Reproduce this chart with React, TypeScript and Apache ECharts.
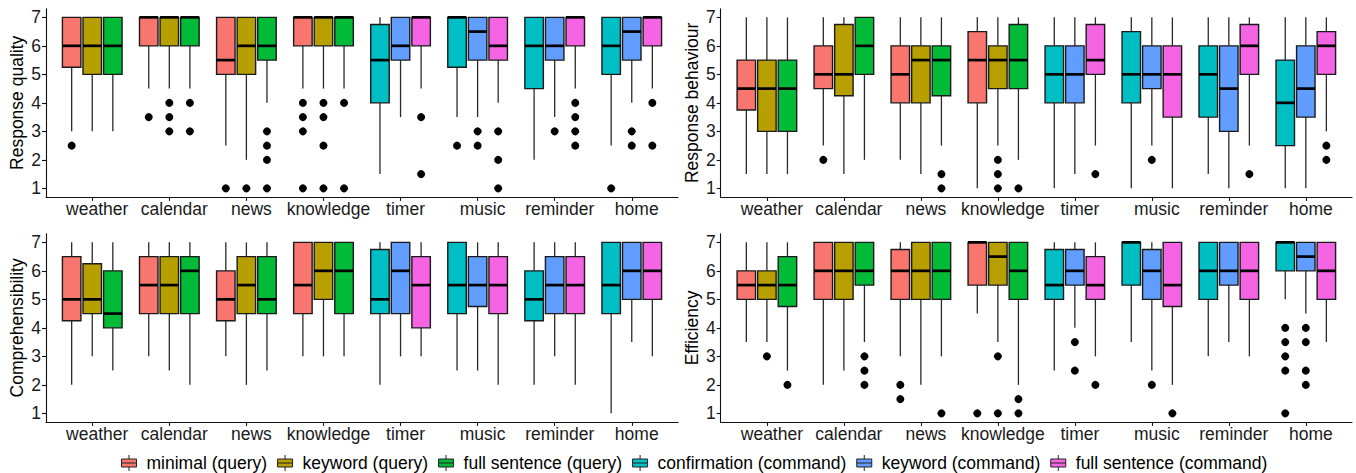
import React, { useEffect, useRef } from 'react';
import * as echarts from 'echarts';

// ---------- data ----------
const categories = ['weather', 'calendar', 'news', 'knowledge', 'timer', 'music', 'reminder', 'home'];
const querySeries = ['minimal (query)', 'keyword (query)', 'full sentence (query)'];
const commandSeries = ['confirmation (command)', 'keyword (command)', 'full sentence (command)'];
const seriesColors = ['#F8766D', '#B79F00', '#00BA38', '#00BFC4', '#619CFF', '#F564E3'];
const yTicks = [1, 2, 3, 4, 5, 6, 7];
const panelTitles = ['Response quality', 'Response behaviour', 'Comprehensibility', 'Efficiency'];

// box stats: [min, Q1, median, Q3, max]; query rows -> weather, calendar, news, knowledge
// command rows -> timer, music, reminder, home
const qualityQuery = [
  [[3, 5.25, 6, 7, 7], [4.5, 6, 7, 7, 7], [2.5, 5, 5.5, 7, 7], [4.5, 6, 7, 7, 7]],
  [[3, 5, 6, 7, 7], [4.5, 6, 7, 7, 7], [2, 5, 6, 7, 7], [4.5, 6, 7, 7, 7]],
  [[3, 5, 6, 7, 7], [4.5, 6, 7, 7, 7], [4, 5.5, 6, 7, 7], [4.5, 6, 7, 7, 7]],
];
const qualityQueryOutliers = [
  [[2.5], [3.5], [1], [4, 3.5, 3, 1]],
  [[], [4, 3.5, 3], [1], [4, 3.5, 2.5, 1]],
  [[], [4, 3], [3, 2.5, 2, 1], [4, 1]],
];
const qualityCommand = [
  [[1.5, 4, 5.5, 6.75, 7], [3.5, 5.25, 7, 7, 7], [2, 4.5, 6, 7, 7], [2.5, 5, 6, 7, 7]],
  [[3.5, 5.5, 6, 7, 7], [3.5, 5.5, 6.5, 7, 7], [3.5, 5.5, 6, 7, 7], [4, 5.5, 6.5, 7, 7]],
  [[4.5, 6, 7, 7, 7], [4, 5.5, 6, 7, 7], [4.5, 6, 7, 7, 7], [4.5, 6, 7, 7, 7]],
];
const qualityCommandOutliers = [
  [[], [2.5], [], [1]],
  [[], [3, 2.5], [3], [3, 2.5]],
  [[3.5, 1.5], [3, 2, 1], [4, 3.5, 3, 2.5], [4, 2.5]],
];

const behaviourQuery = [
  [[1.5, 3.75, 4.5, 5.5, 7], [2.5, 4.5, 5, 6, 7], [2, 4, 5, 6, 7], [1, 4, 5.5, 6.5, 7]],
  [[1.5, 3, 4.5, 5.5, 7], [1.5, 4.25, 5, 6.75, 7], [1.5, 4, 5.5, 6, 7], [2.5, 4.5, 5.5, 6, 7]],
  [[1.5, 3, 4.5, 5.5, 7], [2, 5, 6, 7, 7], [2.5, 4.25, 5.5, 6, 7], [2, 4.5, 5.5, 6.75, 7]],
];
const behaviourQueryOutliers = [
  [[], [2], [], []],
  [[], [], [], [2, 1.5, 1]],
  [[], [], [1.5, 1], [1]],
];
const behaviourCommand = [
  [[1, 4, 5, 6, 7], [1, 4, 5, 6.5, 7], [1.5, 3.5, 5, 6, 7], [1, 2.5, 4, 5.5, 7]],
  [[1.5, 4, 5, 6, 7], [2.5, 4.5, 5, 6, 7], [1, 3, 4.5, 6, 7], [1, 3.5, 4.5, 6, 7]],
  [[2.5, 5, 5.5, 6.75, 7], [1, 3.5, 5, 6, 7], [2.5, 5, 6, 6.75, 7], [3, 5, 6, 6.5, 7]],
];
const behaviourCommandOutliers = [
  [[], [], [], []],
  [[], [2], [], []],
  [[1.5], [], [1.5], [2.5, 2]],
];

const comprehensibilityQuery = [
  [[2, 4.25, 5, 6.5, 7], [3, 4.5, 5.5, 6.5, 7], [3, 4.25, 5, 6, 7], [3, 4.5, 5.5, 7, 7]],
  [[3, 4.5, 5, 6.25, 7], [2.5, 4.5, 5.5, 6.5, 7], [2, 4.5, 5.5, 6.5, 7], [3, 5, 6, 7, 7]],
  [[2.5, 4, 4.5, 6, 7], [2, 4.5, 6, 6.5, 7], [2.5, 4.5, 5, 6.5, 7], [3, 4.5, 6, 7, 7]],
];
const comprehensibilityQueryOutliers = [
  [[], [], [], []],
  [[], [], [], []],
  [[], [], [], []],
];
const comprehensibilityCommand = [
  [[2, 4.5, 5, 6.75, 7], [2.5, 4.5, 5.5, 7, 7], [2, 4.25, 5, 6, 7], [1, 4.5, 5.5, 7, 7]],
  [[3, 4.5, 6, 7, 7], [2.5, 4.75, 5.5, 6.5, 7], [3, 4.5, 5.5, 6.5, 7], [3.5, 5, 6, 7, 7]],
  [[3, 4, 5.5, 6.5, 7], [2, 4.5, 5.5, 6.5, 7], [2, 4.5, 5.5, 6.5, 7], [3, 5, 6, 7, 7]],
];
const comprehensibilityCommandOutliers = [
  [[], [], [], []],
  [[], [], [], []],
  [[], [], [], []],
];

const efficiencyQuery = [
  [[3.5, 5, 5.5, 6, 7], [2, 5, 6, 7, 7], [3, 5, 6, 6.75, 7], [4.5, 5.5, 7, 7, 7]],
  [[3.5, 5, 5.5, 6, 7], [2.5, 5, 6, 7, 7], [2, 5, 6, 7, 7], [3.5, 5.5, 6.5, 7, 7]],
  [[2.5, 4.75, 5.5, 6.5, 7], [3.5, 5.5, 6, 7, 7], [3, 5, 6, 7, 7], [2, 5, 6, 7, 7]],
];
const efficiencyQueryOutliers = [
  [[], [], [2, 1.5], [1]],
  [[3], [], [], [3, 1]],
  [[2], [3, 2.5, 2], [1], [1.5, 1]],
];
const efficiencyCommand = [
  [[2.5, 5, 5.5, 6.75, 7], [3.5, 5.5, 7, 7, 7], [3, 5, 6, 7, 7], [5, 6, 7, 7, 7]],
  [[4, 5.5, 6, 6.75, 7], [2.5, 5, 6, 6.75, 7], [3.5, 5.5, 6, 7, 7], [4.5, 6, 6.5, 7, 7]],
  [[3, 5, 5.5, 6.5, 7], [2, 4.75, 5.5, 7, 7], [3, 5, 6, 7, 7], [3.5, 5, 6, 7, 7]],
];
const efficiencyCommandOutliers = [
  [[], [], [], [4, 3.5, 3, 2.5, 1]],
  [[3.5, 2.5], [2], [], [4, 3.5, 2.5, 2]],
  [[2], [1], [], []],
];

// ---------- layout / style ----------
const FONT = "'Liberation Sans', Arial, Helvetica, sans-serif";
const FS = 17.5;
const SLOT_OFFSET = [-0.267, 0, 0.267];
const BOX_WIDTH = 0.24;
const grids = [
  { left: 46, top: 8.8, width: 632, height: 188.1 },
  { left: 720.7, top: 8.8, width: 631.3, height: 188.1 },
  { left: 46, top: 233.8, width: 632, height: 188.1 },
  { left: 720.7, top: 233.8, width: 631.3, height: 188.1 },
];

const panelData = [
  [qualityQuery, qualityQueryOutliers, qualityCommand, qualityCommandOutliers],
  [behaviourQuery, behaviourQueryOutliers, behaviourCommand, behaviourCommandOutliers],
  [comprehensibilityQuery, comprehensibilityQueryOutliers, comprehensibilityCommand, comprehensibilityCommandOutliers],
  [efficiencyQuery, efficiencyQueryOutliers, efficiencyCommand, efficiencyCommandOutliers],
];

const renderBox = (params: any, api: any) => {
  const x = api.value(0);
  const lo = api.coord([x, api.value(1)]);
  const q1 = api.coord([x, api.value(2)]);
  const med = api.coord([x, api.value(3)]);
  const q3 = api.coord([x, api.value(4)]);
  const hi = api.coord([x, api.value(5)]);
  const w = api.size([BOX_WIDTH, 0])[0];
  const color = api.visual('color');
  const children: any[] = [];
  if (lo[1] - q1[1] > 0.1) {
    children.push({ type: 'line', shape: { x1: lo[0], y1: lo[1], x2: q1[0], y2: q1[1] }, style: { stroke: '#2a2a2a', lineWidth: 1.3 } });
  }
  if (q3[1] - hi[1] > 0.1) {
    children.push({ type: 'line', shape: { x1: q3[0], y1: q3[1], x2: hi[0], y2: hi[1] }, style: { stroke: '#2a2a2a', lineWidth: 1.3 } });
  }
  children.push({
    type: 'rect',
    shape: { x: q1[0] - w / 2, y: q3[1], width: w, height: q1[1] - q3[1] },
    style: { fill: color, stroke: '#1a1a1a', lineWidth: 1.4 },
  });
  children.push({
    type: 'line',
    shape: { x1: med[0] - w / 2, y1: med[1], x2: med[0] + w / 2, y2: med[1] },
    style: { stroke: '#000', lineWidth: 2.7 },
  });
  return { type: 'group', children };
};

function buildOption() {
  const xAxis: any[] = [];
  const yAxis: any[] = [];
  const series: any[] = [];
  grids.forEach((g, p) => {
    xAxis.push({
      type: 'value',
      gridIndex: p,
      min: 0.4,
      max: 8.6,
      splitLine: { show: false },
      axisLine: { show: true, lineStyle: { color: '#111', width: 1.1 } },
      axisTick: { show: true, length: 4, lineStyle: { color: '#111', width: 1.1 }, customValues: categories.map((_, i) => i + 1) },
      axisLabel: {
        customValues: categories.map((_, i) => i + 1),
        formatter: (v: number) => categories[Math.round(v) - 1] || '',
        fontSize: FS,
        fontFamily: FONT,
        color: '#1a1a1a',
        margin: 3,
        padding: [0, 0, 0, 10],
      },
    });
    yAxis.push({
      type: 'value',
      gridIndex: p,
      min: 0.7,
      max: 7.3,
      name: panelTitles[p],
      nameLocation: 'middle',
      nameRotate: 90,
      nameGap: 20,
      nameTextStyle: { fontSize: FS, fontFamily: FONT, color: '#000' },
      splitLine: { show: false },
      axisLine: { show: true, lineStyle: { color: '#111', width: 1.1 } },
      axisTick: { show: true, length: 4, lineStyle: { color: '#111', width: 1.1 }, customValues: yTicks },
      axisLabel: { customValues: yTicks, fontSize: FS, fontFamily: FONT, color: '#1a1a1a', margin: 5 },
    });
    const [qBoxes, qOut, cBoxes, cOut] = panelData[p];
    const outliers: number[][] = [];
    [0, 1, 2].forEach((s) => {
      series.push({
        type: 'custom',
        name: querySeries[s],
        xAxisIndex: p,
        yAxisIndex: p,
        itemStyle: { color: seriesColors[s] },
        encode: { x: 0, y: [1, 2, 3, 4, 5] },
        renderItem: renderBox,
        data: qBoxes[s].map((b: number[], i: number) => [i + 1 + SLOT_OFFSET[s], ...b]),
      });
      series.push({
        type: 'custom',
        name: commandSeries[s],
        xAxisIndex: p,
        yAxisIndex: p,
        itemStyle: { color: seriesColors[s + 3] },
        encode: { x: 0, y: [1, 2, 3, 4, 5] },
        renderItem: renderBox,
        data: cBoxes[s].map((b: number[], i: number) => [i + 5 + SLOT_OFFSET[s], ...b]),
      });
      qOut[s].forEach((vals: number[], i: number) => vals.forEach((v) => outliers.push([i + 1 + SLOT_OFFSET[s], v])));
      cOut[s].forEach((vals: number[], i: number) => vals.forEach((v) => outliers.push([i + 5 + SLOT_OFFSET[s], v])));
    });
    series.push({
      type: 'scatter',
      name: 'outliers',
      xAxisIndex: p,
      yAxisIndex: p,
      symbolSize: 8,
      itemStyle: { color: '#000', opacity: 1 },
      z: 5,
      data: outliers,
    });
  });

  const legendNames = [...querySeries, ...commandSeries];
  const icon = 'path://M7.5,0 L7.5,4 M0,4 L15,4 L15,12 L0,12 Z M0,8 L15,8 M7.5,12 L7.5,16';

  return {
    animation: false,
    backgroundColor: '#fff',
    grid: grids.map((g) => ({ ...g, containLabel: false })),
    xAxis,
    yAxis,
    legend: {
      data: legendNames.map((n) => ({ name: n, icon })),
      left: 121,
      top: 454,
      padding: 0,
      itemWidth: 15,
      itemHeight: 16,
      itemGap: 10,
      selectedMode: false,
      itemStyle: { borderColor: '#222', borderWidth: 1 },
      textStyle: { fontSize: FS, fontFamily: FONT, color: '#000', padding: [0, 0, 0, 5] },
    },
    series,
  };
}

export default function App() {
  const ref = useRef<HTMLDivElement>(null);
  useEffect(() => {
    const chart = echarts.init(ref.current as HTMLDivElement, null, { renderer: 'svg' });
    chart.setOption(buildOption() as any);
    return () => chart.dispose();
  }, []);
  return <div ref={ref} style={{ position: 'absolute', left: 0, top: 0, width: 1356, height: 473 }} />;
}
